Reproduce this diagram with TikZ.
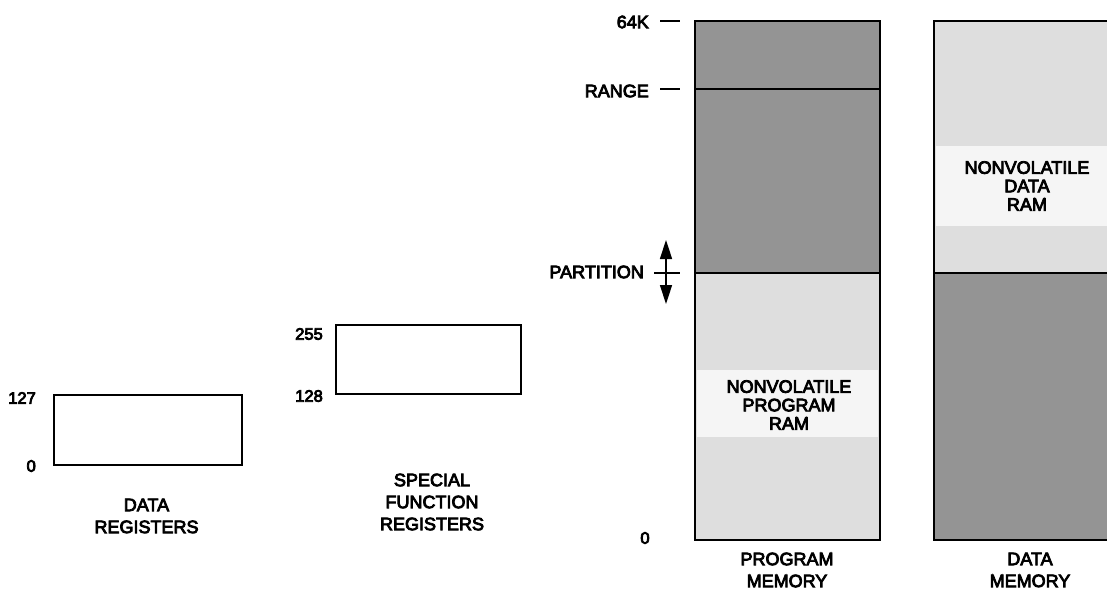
\documentclass[tikz,border=0pt]{standalone}
\usepackage{fontspec}
\setmainfont{Liberation Sans}
\usetikzlibrary{arrows.meta}
\definecolor{darkfill}{gray}{0.58}
\definecolor{lightfill}{gray}{0.87}
\definecolor{bandfill}{gray}{0.96}
\newcommand\heavyon{\special{pdf:literal direct 2 Tr 0.8 w}}
\newcommand\heavyoff{\special{pdf:literal direct 0 Tr}}
\tikzset{
  box/.style={draw=black, line width=1.8pt},
  txt/.style={inner sep=0pt, align=center, execute at begin node=\heavyon, execute at end node=\heavyoff},
  lbl/.style={txt, font=\fontsize{18}{22}\selectfont},
  inlbl/.style={txt, font=\fontsize{18}{18.5}\selectfont},
  num/.style={txt, font=\fontsize{16.5}{18}\selectfont},
  tick/.style={line width=1.5pt},
}
\begin{document}
\begin{tikzpicture}[x=1pt,y=-1pt]
\useasboundingbox (0,0) rectangle (1107,589);
% Data registers
\draw[box] (54,395) rectangle (242,465);
% Special function registers
\draw[box] (336,325) rectangle (521,394);
% Program memory
\fill[darkfill] (695,21) rectangle (880,273);
\fill[lightfill] (695,273) rectangle (880,540);
\fill[bandfill] (697,370) rectangle (878,437);
\draw[box] (695,89) -- (880,89);
\draw[box] (695,273) -- (880,273);
\draw[box] (695,21) rectangle (880,540);
\draw[tick] (660,21) -- (680,21);
\draw[tick] (660,89) -- (680,89);
\draw[tick] (654,273) -- (680,273);
\draw[line width=1.5pt, {Triangle[length=19pt,width=12pt]}-{Triangle[length=19pt,width=12pt]}] (666,240) -- (666,304);
% Data memory
\fill[lightfill] (934,21) rectangle (1120,273);
\fill[bandfill] (936,146) rectangle (1110,226);
\fill[darkfill] (934,273) rectangle (1120,540);
\draw[box] (934,273) -- (1120,273);
\draw[box] (934,21) rectangle (1120,540);
% Texts
\node[num, anchor=east] (l127) at (36,398) {127};
\node[num, anchor=east] (l0a) at (36,466) {0};
\node[lbl] (dreg) at (146.5,516) {DATA\\REGISTERS};
\node[num, anchor=east] (l255) at (323,334) {255};
\node[num, anchor=east] (l128) at (323,396) {128};
\node[lbl] (sfr) at (432,502) {SPECIAL\\FUNCTION\\REGISTERS};
\node[inlbl] (pram) at (789,405) {NONVOLATILE\\PROGRAM\\RAM};
\node[lbl] (pmem) at (787,570) {PROGRAM\\MEMORY};
\node[lbl, anchor=east] (k64) at (649,22) {64K};
\node[lbl, anchor=east] (range) at (649,91) {RANGE};
\node[lbl, anchor=east] (part) at (644,272) {PARTITION};
\node[num] (l0b) at (645,538) {0};
\node[inlbl] (dram) at (1027,186) {NONVOLATILE\\DATA\\RAM};
\node[lbl] (dmem) at (1030,570) {DATA\\MEMORY};
\end{tikzpicture}
\end{document}
